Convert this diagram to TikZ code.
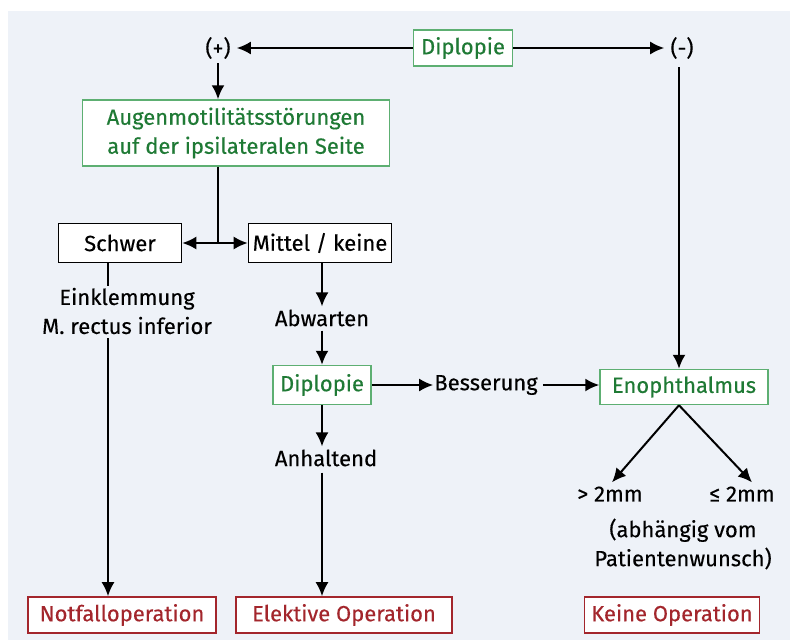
\documentclass[tikz,border=0pt]{standalone}
\usepackage{fontspec}
\setmainfont{Fira Sans}[FakeBold=0.3]
\usetikzlibrary{arrows.meta,calc}
\definecolor{panel}{HTML}{EEF2F8}
\definecolor{gborder}{HTML}{5DAF72}
\definecolor{gtext}{HTML}{1F7A35}
\definecolor{rborder}{HTML}{A3262C}
\definecolor{rtext}{HTML}{A3262C}
\tikzset{
  base/.style={font=\fontsize{22}{29}\selectfont, align=center, inner sep=0pt},
  gbox/.style={base, draw=gborder, line width=1.5pt, fill=white, text=gtext},
  kbox/.style={base, draw=black, line width=1.6pt, fill=white},
  rbox/.style={base, draw=rborder, line width=1.6pt, fill=white, text=rtext},
  lbl/.style={base},
  arr/.style={line width=2pt, -{Latex[length=14pt,width=13pt]}},
  ln/.style={line width=2pt},
}
\begin{document}
\begin{tikzpicture}[x=1pt,y=-1pt]
\useasboundingbox (0,0) rectangle (790,643);
\fill[panel] (8,11) rectangle (790,640);
% nodes
\node[gbox, minimum width=99, minimum height=36] (dtop) at (463,48) {Diplopie};
\node[lbl] (plus) at (218,48) {(+)};
\node[lbl] (minus) at (682,48) {(-)};
\node[gbox, minimum width=307, minimum height=66] (augen) at (236,133) {Augenmotilitätsstörungen\\auf der ipsilateralen Seite};
\node[kbox, minimum width=123, minimum height=39] (schwer) at (120,243) {Schwer};
\node[kbox, minimum width=143, minimum height=39] (mittel) at (320,243) {Mittel / keine};
\node[lbl] (einkl) at (127,311) {Einklemmung\\M. rectus inferior};
\node[lbl] (abw) at (322,318) {Abwarten};
\node[gbox, minimum width=98, minimum height=39] (dmid) at (322,385) {Diplopie};
\node[lbl] (bess) at (486,385) {Besserung};
\node[gbox, minimum width=168, minimum height=35] (enoph) at (684,387) {Enophthalmus};
\node[lbl] (anh) at (326,458) {Anhaltend};
\node[lbl] (gt) at (610,494) {> 2mm};
\node[lbl] (le) at (742,494) {≤ 2mm};
\node[lbl] (abh) at (683,544) {(abhängig vom\\Patientenwunsch)};
\node[rbox, minimum width=188, minimum height=36] (notf) at (122,615) {Notfalloperation};
\node[rbox, minimum width=216, minimum height=36] (elek) at (344,615) {Elektive Operation};
\node[rbox, minimum width=175, minimum height=36] (keine) at (672,615) {Keine Operation};
\coordinate (br) at (218,243);
\coordinate (sx) at (108,0);
\coordinate (mx) at (679,0);
% connectors
\draw[arr] (dtop.west) -- ($(plus.east)+(6,0)$);
\draw[arr] (dtop.east) -- ($(minus.west)+(-6,0)$);
\draw[arr] ($(plus.south)+(0,4)$) -- (plus.south |- augen.north);
\draw[ln] (augen.south -| br) -- (br);
\draw[arr] (br) -- (schwer.east);
\draw[arr] (br) -- (mittel.west);
\draw[ln] (schwer.south -| sx) -- ($(einkl.north -| sx)+(0,-2)$);
\draw[arr] ($(einkl.south -| sx)+(0,4)$) -- (notf.north -| sx);
\draw[arr] (mittel.south -| abw) -- ($(abw.north)+(0,-3)$);
\draw[arr] ($(abw.south)+(0,4)$) -- (dmid.north);
\draw[arr] (dmid.east) -- ($(bess.west)+(-1,0)$);
\draw[arr] ($(bess.east)+(5,0)$) -- (bess.east -| enoph.west);
\draw[arr] ($(minus.south)+(-3,8)$) -- (enoph.north -| mx);
\draw[arr] (enoph.south -| mx) -- ($(gt.north)+(2,-4)$);
\draw[arr] (enoph.south -| mx) -- ($(le.north)+(10,-4)$);
\draw[arr] (dmid.south) -- ($(anh.north)+(-4,-3)$);
\draw[arr] ($(anh.south)+(-4,6)$) -- (elek.north -| dmid);
\end{tikzpicture}
\end{document}
